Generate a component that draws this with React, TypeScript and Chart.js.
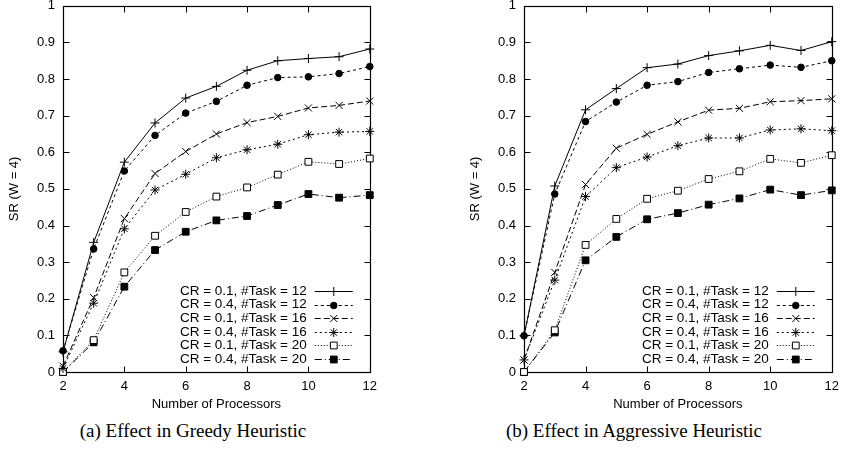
import React, { useEffect, useRef } from "react";
import { Chart, registerables, PointElement } from "chart.js";

Chart.register(...registerables);

// ---- data ----
const processors = [2, 3, 4, 5, 6, 7, 8, 9, 10, 11, 12];
const seriesLabels = [
  "CR = 0.1, #Task = 12",
  "CR = 0.4, #Task = 12",
  "CR = 0.1, #Task = 16",
  "CR = 0.4, #Task = 16",
  "CR = 0.1, #Task = 20",
  "CR = 0.4, #Task = 20",
];
const xTickValues = [2, 4, 6, 8, 10, 12];
const yTickLabels = ["0", "0.1", "0.2", "0.3", "0.4", "0.5", "0.6", "0.7", "0.8", "0.9", "1"];
const xAxisTitle = "Number of Processors";
const yAxisTitle = "SR (W = 4)";
const captionGreedy = "(a) Effect in Greedy Heuristic";
const captionAggressive = "(b) Effect in Aggressive Heuristic";

// Greedy heuristic
const greedyCr01T12 = [0.055, 0.354, 0.573, 0.68, 0.748, 0.78, 0.824, 0.85, 0.856, 0.861, 0.882];
const greedyCr04T12 = [0.058, 0.336, 0.549, 0.646, 0.707, 0.739, 0.783, 0.804, 0.806, 0.815, 0.834];
const greedyCr01T16 = [0.016, 0.203, 0.419, 0.542, 0.602, 0.65, 0.681, 0.698, 0.721, 0.728, 0.74];
const greedyCr04T16 = [0.01, 0.188, 0.391, 0.497, 0.54, 0.585, 0.607, 0.622, 0.648, 0.655, 0.657];
const greedyCr01T20 = [0, 0.087, 0.272, 0.372, 0.437, 0.479, 0.504, 0.539, 0.574, 0.568, 0.583];
const greedyCr04T20 = [0, 0.081, 0.233, 0.333, 0.383, 0.414, 0.426, 0.456, 0.486, 0.476, 0.483];

// Aggressive heuristic
const aggrCr01T12 = [0.099, 0.508, 0.716, 0.774, 0.831, 0.841, 0.864, 0.877, 0.892, 0.878, 0.902];
const aggrCr04T12 = [0.099, 0.486, 0.684, 0.737, 0.783, 0.793, 0.818, 0.828, 0.838, 0.832, 0.85];
const aggrCr01T16 = [0.033, 0.272, 0.512, 0.611, 0.649, 0.683, 0.715, 0.72, 0.738, 0.741, 0.746];
const aggrCr04T16 = [0.033, 0.251, 0.479, 0.558, 0.587, 0.618, 0.639, 0.639, 0.661, 0.664, 0.659];
const aggrCr01T20 = [0, 0.114, 0.347, 0.418, 0.473, 0.495, 0.527, 0.548, 0.582, 0.571, 0.592];
const aggrCr04T20 = [0, 0.108, 0.305, 0.369, 0.417, 0.434, 0.457, 0.474, 0.498, 0.483, 0.496];

const greedySeries = [greedyCr01T12, greedyCr04T12, greedyCr01T16, greedyCr04T16, greedyCr01T20, greedyCr04T20];
const aggrSeries = [aggrCr01T12, aggrCr04T12, aggrCr01T16, aggrCr04T16, aggrCr01T20, aggrCr04T20];

// ---- styles ----
const dashes: number[][] = [[], [3, 3], [6, 3], [2, 3], [1, 2], [7, 3, 1, 3]];
const pointStyles = ["cross", "circle", "crossRot", "star", "rect", "rect"];
const pointRadii = [4.5, 3.3, 5, 4.5, 4.8, 4.8];
const pointFills = ["#000", "#000", "#000", "#000", "#fff", "#000"];

const SANS = '"Liberation Sans", Arial, Helvetica, sans-serif';

const framePlugin = {
  id: "gnuFrame",
  beforeDatasetsDraw(chart: any) {
    const { ctx, chartArea: a, scales } = chart;
    const xs = scales.x;
    const ys = scales.y;
    ctx.save();
    ctx.strokeStyle = "#000";
    ctx.lineWidth = 1;
    ctx.setLineDash([]);
    const L = Math.round(a.left) + 0.5;
    const R = Math.round(a.right) + 0.5;
    const T = Math.round(a.top) + 0.5;
    const B = Math.round(a.bottom) + 0.5;
    const tl = 6;
    ctx.beginPath();
    xTickValues.forEach((v) => {
      const px = Math.round(xs.getPixelForValue(v)) + 0.5;
      ctx.moveTo(px, B);
      ctx.lineTo(px, B - tl);
      ctx.moveTo(px, T);
      ctx.lineTo(px, T + tl);
    });
    yTickLabels.forEach((lab) => {
      const py = Math.round(ys.getPixelForValue(parseFloat(lab))) + 0.5;
      ctx.moveTo(L, py);
      ctx.lineTo(L + tl, py);
      ctx.moveTo(R, py);
      ctx.lineTo(R - tl, py);
    });
    ctx.stroke();
    ctx.lineWidth = 1.2;
    ctx.strokeRect(L, T, R - L, B - T);
    ctx.restore();
  },
  afterDatasetsDraw(chart: any) {
    const { ctx, chartArea: a } = chart;
    ctx.save();
    chart.data.datasets.forEach((ds: any, i: number) => {
      const y = a.bottom - 81 + i * 13.6;
      ctx.font = "13.5px " + SANS;
      ctx.fillStyle = "#000";
      ctx.textAlign = "right";
      ctx.textBaseline = "middle";
      ctx.fillText(ds.label, a.right - 63, y);
      ctx.strokeStyle = "#000";
      ctx.lineWidth = 1;
      ctx.setLineDash(ds.borderDash || []);
      ctx.beginPath();
      ctx.moveTo(a.right - 55, Math.round(y) + 0.5);
      ctx.lineTo(a.right - 17, Math.round(y) + 0.5);
      ctx.stroke();
      ctx.setLineDash([]);
      const meta = chart.getDatasetMeta(i);
      const el = meta.data[0];
      if (el) {
        const p: any = new PointElement({} as any);
        p.x = a.right - 36;
        p.y = Math.round(y) + 0.5;
        p.options = el.options;
        p.draw(ctx, { left: 0, top: 0, right: chart.width, bottom: chart.height });
      }
    });
    ctx.restore();
  },
};

function SRChart({ series, left, width }: { series: number[][]; left: number; width: number }) {
  const ref = useRef<HTMLCanvasElement | null>(null);
  useEffect(() => {
    if (!ref.current) return;
    const datasets = series.map((vals, i) => ({
      label: seriesLabels[i],
      data: processors.map((p, j) => ({ x: p, y: vals[j] })),
      borderColor: "#000",
      borderWidth: 1,
      borderDash: dashes[i],
      pointStyle: pointStyles[i],
      pointRadius: pointRadii[i],
      pointBorderWidth: 1,
      pointBorderColor: "#000",
      pointBackgroundColor: pointFills[i],
      fill: false,
      tension: 0,
      clip: false as any,
    }));
    const chart = new Chart(ref.current, {
      type: "line",
      data: { datasets },
      plugins: [framePlugin],
      options: {
        animation: false,
        responsive: false,
        devicePixelRatio: 1,
        layout: { padding: { top: 14, right: 14, bottom: 0, left: 0 } },
        plugins: { legend: { display: false }, tooltip: { enabled: false }, title: { display: false } },
        scales: {
          x: {
            type: "linear",
            min: 2,
            max: 12,
            grid: { display: false, drawTicks: false },
            border: { display: false },
            afterBuildTicks: (scale: any) => {
              scale.ticks = xTickValues.map((v) => ({ value: v }));
            },
            afterFit: (scale: any) => {
              scale.height = 46;
            },
            ticks: {
              padding: 7,
              color: "#000",
              font: { family: SANS, size: 13 },
              maxRotation: 0,
              autoSkip: false,
            },
            title: {
              display: true,
              text: xAxisTitle,
              color: "#000",
              font: { family: SANS, size: 13 },
              padding: { top: 0, bottom: 6 },
            },
          },
          y: {
            type: "linear",
            min: 0,
            max: 1,
            grid: { display: false, drawTicks: false },
            border: { display: false },
            afterBuildTicks: (scale: any) => {
              scale.ticks = yTickLabels.map((l) => ({ value: parseFloat(l) }));
            },
            afterFit: (scale: any) => {
              scale.width = 63;
            },
            ticks: {
              padding: 8,
              color: "#000",
              font: { family: SANS, size: 13 },
              autoSkip: false,
              callback: (_v: any, idx: number) => yTickLabels[idx],
            },
            title: {
              display: true,
              text: yAxisTitle,
              color: "#000",
              font: { family: SANS, size: 13 },
              padding: { top: 7, bottom: 0 },
            },
          },
        },
      },
    });
    return () => chart.destroy();
  }, [series]);
  return (
    <canvas
      ref={ref}
      width={width}
      height={428}
      style={{ position: "absolute", left, top: -10, width, height: 428, display: "block" }}
    />
  );
}

const captionStyle: React.CSSProperties = {
  position: "absolute",
  top: 420,
  height: 22,
  lineHeight: "22px",
  fontFamily: '"Liberation Serif", "Times New Roman", Times, serif',
  fontSize: 19,
  textAlign: "center",
  color: "#000",
  whiteSpace: "nowrap",
};

export default function App() {
  useEffect(() => {
    document.body.style.margin = "0";
  }, []);
  return (
    <div style={{ position: "fixed", left: 0, top: 0, width: 849, height: 458, overflow: "hidden", background: "#fff" }}>
      <SRChart series={greedySeries} left={0} width={384} />
      <SRChart series={aggrSeries} left={461} width={385} />
      <div style={{ ...captionStyle, left: 0, width: 386 }}>{captionGreedy}</div>
      <div style={{ ...captionStyle, left: 434, width: 400 }}>{captionAggressive}</div>
    </div>
  );
}
